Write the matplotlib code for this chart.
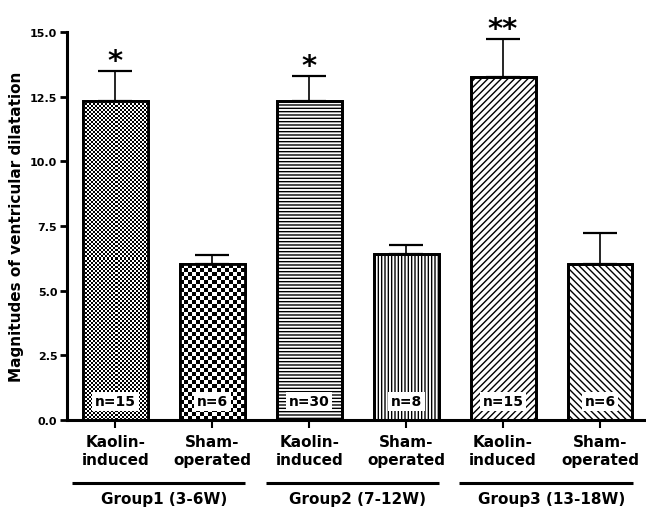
import numpy as np
import matplotlib
matplotlib.use("Agg")
import matplotlib.pyplot as plt
from matplotlib.transforms import blended_transform_factory

# ---- data ----
categories = ["Kaolin-\ninduced", "Sham-\noperated",
              "Kaolin-\ninduced", "Sham-\noperated",
              "Kaolin-\ninduced", "Sham-\noperated"]
groups = ["Group1 (3-6W)", "Group2 (7-12W)", "Group3 (13-18W)"]
means = [12.33, 6.03, 12.33, 6.42, 13.27, 6.03]
sems = [1.17, 0.36, 0.98, 0.36, 1.46, 1.20]
n_labels = ["n=15", "n=6", "n=30", "n=8", "n=15", "n=6"]
stars = ["*", "", "*", "", "**", ""]
yticks = [0.0, 2.5, 5.0, 7.5, 10.0, 12.5, 15.0]

# fill style per bar: ("checker", cell size px) or ("hatch", pattern)
fills = [("checker", 2.0), ("checker", 4.0), ("hatch", "-----"),
         ("hatch", "|||||"), ("hatch", "/////"), ("hatch", "\\\\\\\\\\")]

plt.rcParams["font.family"] = ["DejaVu Sans"]
plt.rcParams["font.weight"] = "bold"
plt.rcParams["hatch.linewidth"] = 1.0
plt.rcParams["hatch.color"] = "black"

fig = plt.figure(figsize=(6.46, 5.10), dpi=100)
ax = fig.add_axes([67 / 646, 89 / 510, 579 / 646, 388 / 510])
ax.set_xlim(-0.5, 5.475)
ax.set_ylim(0, 15)

x = np.arange(len(means))
width = 0.67

ax.errorbar(x, means, yerr=[np.zeros(len(sems)), sems], fmt="none",
            ecolor="black", elinewidth=1.2, capsize=12, capthick=1.6, zorder=1)

bars = ax.bar(x, means, width=width, facecolor="white", edgecolor="black",
              linewidth=2.0, zorder=2)


def checker_fill(bar, cell_px):
    x0, y0 = bar.get_x(), bar.get_y()
    w, h = bar.get_width(), bar.get_height()
    px0, py0 = ax.transData.transform((x0, y0))
    px1, py1 = ax.transData.transform((x0 + w, y0 + h))
    nx = max(1, int(round((px1 - px0) / cell_px)))
    ny = max(1, int(round((py1 - py0) / cell_px)))
    board = np.add.outer(np.arange(ny), np.arange(nx)) % 2
    im = ax.imshow(board, cmap="gray", vmin=0, vmax=1,
                   extent=(x0, x0 + w, y0, y0 + h), origin="lower",
                   interpolation="nearest", aspect="auto", zorder=2.5)
    im.set_clip_path(bar)


for bar, (kind, spec) in zip(bars, fills):
    if kind == "checker":
        checker_fill(bar, spec)
    else:
        bar.set_hatch(spec)

# outlines on top of the textures
ax.bar(x, means, width=width, fill=False, edgecolor="black",
       linewidth=2.0, zorder=3)

ax.set_xlim(-0.5, 5.475)
ax.set_ylim(0, 15)

# sample sizes inside the bars
for xi, lab in zip(x, n_labels):
    ax.text(xi, 0.72, lab, ha="center", va="center", fontsize=10,
            fontweight="bold", zorder=5,
            bbox=dict(facecolor="white", edgecolor="none",
                      boxstyle="square,pad=0.2"))

# significance marks
for xi, m, e, s in zip(x, means, sems, stars):
    if s:
        ax.annotate(s, (xi, m + e), xytext=(0, 7), textcoords="offset points",
                    ha="center", va="center", fontsize=21, fontweight="bold")

# axes styling
for side in ("top", "right"):
    ax.spines[side].set_visible(False)
for side in ("left", "bottom"):
    ax.spines[side].set_linewidth(2.2)

ax.set_yticks(yticks)
ax.set_yticklabels([f"{v:.1f}" for v in yticks], fontsize=8, fontweight="bold")
ax.tick_params(axis="y", length=5, width=2, pad=2)
ax.set_xticks(x)
ax.set_xticklabels(categories, fontsize=11, fontweight="bold", linespacing=1.25)
ax.tick_params(axis="x", length=6, width=1.5, pad=4)

fig.text(17 / 646, 1 - 227 / 510, "Magnitudes of ventricular dilatation",
         rotation=90, ha="center", va="center", fontsize=11, fontweight="bold")

# group brackets
trans = blended_transform_factory(ax.transData, ax.transAxes)
for gi, g in enumerate(groups):
    a, b = 2 * gi, 2 * gi + 1
    ax.plot([a - 0.45, b + 0.34], [-0.1624, -0.1624], transform=trans,
            clip_on=False, color="black", lw=2.2, solid_capstyle="butt")
    ax.text((a + b) / 2, -0.2036, g, transform=trans, ha="center",
            va="center", fontsize=11, fontweight="bold")

fig.savefig("out.png", dpi=100)
